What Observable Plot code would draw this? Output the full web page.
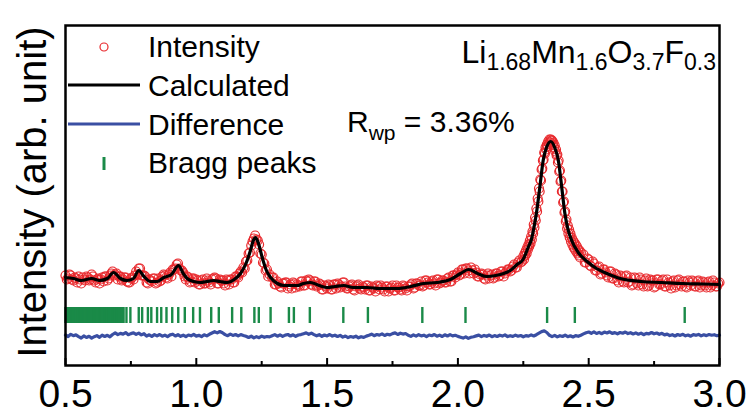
<!DOCTYPE html>
<html><head><meta charset="utf-8">
<script src="https://cdn.jsdelivr.net/npm/d3@7"></script>
<script src="https://cdn.jsdelivr.net/npm/@observablehq/plot@0.6"></script>
<style>
html,body{margin:0;padding:0;background:#fff;}
#wrap{position:relative;width:748px;height:407px;font-family:"Liberation Sans",Arial,sans-serif;}
#wrap svg{display:block;}
#overlay{position:absolute;left:0;top:0;pointer-events:none;}
</style></head><body><div id="wrap"></div>
<script>
// ---------- data ----------
const xTicks = [0.5, 1.0, 1.5, 2.0, 2.5, 3.0];
const xMinorTicks = [0.75, 1.25, 1.75, 2.25, 2.75];

// Calculated profile (x, intensity)
const calcX = [0.50,0.53,0.56,0.60,0.63,0.66,0.684,0.71,0.735,0.76,0.78,0.80,0.824,0.85,0.876,0.905,0.932,0.95,0.965,0.99,1.016,1.04,1.067,1.09,1.118,1.145,1.169,1.19,1.207,1.218,1.226,1.235,1.252,1.268,1.284,1.31,1.335,1.36,1.386,1.41,1.437,1.47,1.501,1.53,1.563,1.60,1.653,1.70,1.767,1.82,1.869,1.92,1.971,2.01,2.041,2.075,2.111,2.145,2.175,2.2,2.226,2.249,2.27,2.281,2.29,2.30,2.313,2.326,2.34,2.355,2.37,2.384,2.397,2.409,2.42,2.435,2.46,2.494,2.53,2.57,2.62,2.70,2.78,2.86,2.94,3.00];
const calcY = [88,87,85,87,85,87,93,87,85,87,95,89,84,84,88,91,100,92,87,84,83,84,85,84,83,86,92,102,115,125,128,124,108,95,88,82,80,80,80,82,83,80,78,79,80,78,78,77,77,79,82,83,86,92,96,92,89,90,92,95,101,106,119,126,137,152,178,205,219,224,218,205,178,152,137,125,113,104,97,92,87,84,83,82,81.5,81];

// Observed intensity, in segments (start, step, values)
const obsA = [90,87,90,85,87,89,82,86,89,85,91,85,86,82,88,89,85,90,94,91,86,89,86,88,83,87,86,94,97,90,90,83,86,84,87,83,84,89,90,87,93,96,97,102,95,93,86,88,84,87,
  86,81,85,82,87,83,86,88,82,86,85,80,85,86,83,89,88,94]; // 0.50 .. 1.17 step 0.01
const obsA2 = [86,91,86,88,83,86,88,85,88,86,89,83,87,86,84,89,87,92,90,92,89,85,88,84,83,88,90,91,97,90,89,82,85,87,82,87,85,91,88,91,89,96,101,97,95,89,89,83,87,83,
  85,81,86,82,85,81,87,87,82,85,82,86,81,86,83,89,92,93]; // 0.505 .. 1.175 step 0.01
const obsB = [98,97,104,105,112,113,120,124,127,130,126,125,121,112,111,103,102,95,96,89,91]; // 1.18 .. 1.28 step 0.005
const obsC = [88,81,84,79,82,83,77,81,83,78,80,84,80,85,86,81,84,79,82,76,80,77,80,76,81,82,78,83,79,77,80,76,79,81,76,78,80,75,79,77,80,76,78,74,79,77,80,75,78,76,80,77,79,81,77,82,80,84,80,85,81,84,82,86,82,85,83,87,84,90,88,93,91,96,97,95,98,92,93,89,92,87,90,87,91,88,92,90,94,92,96,94,99,98,103,103]; // 1.29 .. 2.24 step 0.01
const obsC2 = [88,81,82,78,82,83,79,77,82,81,79,84,80,84,85,80,84,80,81,76,79,81,76,81,77,81,79,83,77,79,81,75,80,77,79,76,80,75,78,74,79,80,76,79,74,78,75,80,78,75,79,75,79,82,78,82,80,79,85,83,81,85,80,86,83,85,83,88,84,90,91,90,96,92,97,92,95,96,89,91,91,86,92,90,87,92,89,94,89,94,96,95,101,98,105,104]; // 1.295 .. 2.245 step 0.01
const obsD = [109,106,112,110,115,112,118,116,121,119,125,122,129,126,134,132,141,138,148,145,157,154,167,164,177,174,186,185,196,197,205,206,213,212,218,216,221,219,224,222,226,223,226,225,225,221,223,218,220,214,216,210,211,203,205,194,195,184,185,174,174,163,164,153,154,144,146,137,140,132,136,128,132,124,128,121,125,118,123,116,121,114,119,112,116,110,115,108,113]; // 2.25 .. 2.47 step 0.0025
const obsE = [111,103,106,99,102,95,99,92,96,90,94,87,92,85,90,84,89,83,88,81,87,80,86,79,87,80,85,78,86,81,85,79,86,80,84,78,85,81,84,79,85,80,84,79,85,80,83,78,84,80,83,79,83]; // 2.48 .. 3.00 step 0.01
const obsE2 = [103,107,100,104,95,98,91,96,93,88,94,87,91,83,89,83,90,84,80,88,82,88,81,85,79,86,85,79,86,81,86,79,83,77,85,80,86,79,84,78,83,85,79,84,78,84,80,83,78,85,79,82]; // 2.485 .. 2.995 step 0.01

// Difference curve, 0.50 .. 3.00 step 0.01 (offset)
const diffY = [30.5,29.0,31.2,29.8,30.6,28.9,27.5,29.6,28.0,29.2,27.4,28.8,29.9,28.1,30.4,29.0,30.2,28.7,
 31.0,32.6,30.9,32.1,31.4,32.9,30.8,31.9,32.7,31.1,32.4,30.6,31.8,
 29.4,30.7,29.1,30.9,29.6,31.0,29.3,30.4,28.9,30.6,31.3,29.5,30.8,29.2,30.3,28.8,30.5,29.7,31.1,29.4,30.2,28.9,30.7,29.6,31.2,
 32.5,33.8,32.6,34.0,32.8,
 30.9,29.8,31.4,30.1,31.0,29.6,30.9,30.0,29.2,
 28.0,29.3,27.6,28.9,27.8,29.4,28.2,29.0,28.6,
 29.8,30.9,29.3,30.6,29.1,30.4,31.0,29.5,30.7,29.2,30.5,30.9,
 31.8,32.6,31.2,32.4,30.9,
 29.7,30.8,29.2,30.5,29.6,31.0,29.4,30.3,29.0,30.1,
 28.4,29.5,27.9,29.0,28.2,29.3,27.7,28.8,28.1,29.4,
 30.2,31.3,29.8,31.0,30.4,31.6,30.0,31.2,30.6,
 31.9,32.6,31.0,32.3,31.4,32.0,
 30.2,29.1,30.6,29.4,30.8,29.6,30.3,28.9,30.5,29.8,31.0,29.3,30.4,29.0,30.7,29.5,30.9,29.6,30.2,29.1,
 28.3,27.4,28.6,27.1,28.2,28.8,
 29.6,30.4,28.9,30.1,29.2,30.5,28.8,29.9,29.0,30.3,29.4,30.6,28.9,29.8,29.1,30.4,29.3,30.0,28.7,29.9,29.4,30.6,29.5,30.8,
 32.4,33.9,34.6,33.0,
 30.2,28.9,30.1,28.6,29.8,29.0,30.4,28.8,29.7,28.5,29.9,29.2,30.3,
 31.6,32.8,33.5,32.2,33.6,32.0,33.1,31.8,33.4,32.5,33.7,32.1,32.9,31.7,33.0,32.3,33.5,31.9,32.8,31.5,32.6,31.3,32.4,30.8,32.1,31.6,33.0,31.7,32.5,31.2,32.2,
 30.6,31.4,29.9,30.8,29.5,31.0,30.1,31.2,29.7,30.5,29.3,30.9,30.2,31.1,29.6,30.7,29.9,31.0,30.3,30.8,29.8,30.4];

// Bragg peak positions
const braggPos = [0.500,0.505,0.509,0.513,0.518,0.522,0.527,0.531,0.536,0.540,0.545,0.549,0.553,0.558,0.562,0.567,0.571,0.575,0.580,0.584,0.589,0.593,0.598,0.602,0.607,0.611,0.616,0.621,0.625,0.630,0.635,0.640,0.644,0.649,0.654,0.659,0.664,0.669,0.674,0.679,0.684,0.689,0.694,0.700,0.705,0.711,0.716,0.722,
 0.733,0.748,0.780,0.793,0.815,0.828,0.850,0.866,0.886,0.908,0.931,0.956,0.988,1.014,1.057,1.086,1.137,1.172,1.222,1.239,1.284,1.354,1.373,1.434,1.562,1.656,1.864,2.029,2.341,2.447,2.867];
const braggLevel = 50;

const legendLabels = ["Intensity", "Calculated", "Difference", "Bragg peaks"];
const yLabel = "Intensity (arb. unit)";

// ---------- build tables ----------
const seg = (start, step, vals) => vals.map((v, i) => ({x: +(start + i * step).toFixed(4), y: v}));
const obs = [].concat(
  seg(0.50, 0.01, obsA), seg(0.505, 0.01, obsA2),
  seg(1.18, 0.005, obsB),
  seg(1.29, 0.01, obsC), seg(1.295, 0.01, obsC2),
  seg(2.25, 0.0025, obsD),
  seg(2.48, 0.01, obsE), seg(2.485, 0.01, obsE2)
).sort((a, b) => a.x - b.x);
const calc = calcX.map((x, i) => ({x, y: calcY[i]}));
const diff = seg(0.50, 0.01, diffY);

const RED = "#e8282c", BLUE = "#3a4fa3", GREEN = "#1a8a48";

const plot = Plot.plot({
  width: 748, height: 407,
  marginLeft: 65, marginRight: 29, marginTop: 25, marginBottom: 42,
  x: {domain: [0.5, 3.0], label: null},
  y: {domain: [0, 340], axis: null},
  style: {fontFamily: "'Liberation Sans', Arial, sans-serif", background: "white", color: "black"},
  marks: [
    Plot.ruleX(braggPos, {x: d => d, y1: braggLevel - 8, y2: braggLevel + 8, stroke: GREEN, strokeWidth: 2.4}),
    Plot.line(diff, {x: "x", y: "y", stroke: BLUE, strokeWidth: 3.2}),
    Plot.dot(obs, {x: "x", y: "y", r: 4.5, stroke: RED, strokeWidth: 1.2, fill: "none"}),
    Plot.line(calc, {x: "x", y: "y", stroke: "black", strokeWidth: 3.2, curve: "monotone-x"}),
    Plot.tickX(xTicks, {x: d => d, insetTop: 333, stroke: "black", strokeWidth: 2}),
    Plot.tickX(xMinorTicks, {x: d => d, insetTop: 336, stroke: "black", strokeWidth: 2}),
    Plot.frame({stroke: "black", strokeWidth: 2.5}),
    Plot.axisX(xTicks, {tickSize: 0, tickPadding: 14, fontSize: 39, label: null, tickFormat: d3.format(".1f")})
  ]
});
const wrap = document.getElementById("wrap");
wrap.appendChild(plot);

// ---------- legend and annotations ----------
const ov = d3.select(wrap).append("svg").attr("id", "overlay").attr("width", 748).attr("height", 407)
  .attr("font-family", "'Liberation Sans', Arial, sans-serif").attr("fill", "black");

ov.append("circle").attr("cx", 104).attr("cy", 47).attr("r", 4).attr("fill", "none").attr("stroke", RED).attr("stroke-width", 1.2);
ov.append("line").attr("x1", 68).attr("x2", 140).attr("y1", 85).attr("y2", 85).attr("stroke", "black").attr("stroke-width", 3);
ov.append("line").attr("x1", 68).attr("x2", 140).attr("y1", 124).attr("y2", 124).attr("stroke", BLUE).attr("stroke-width", 3);
ov.append("line").attr("x1", 104).attr("x2", 104).attr("y1", 157).attr("y2", 170).attr("stroke", GREEN).attr("stroke-width", 3);
const baselines = [57, 96, 135, 173];
legendLabels.forEach((t, i) => ov.append("text").attr("x", 148).attr("y", baselines[i]).attr("font-size", 30).text(t));

// formula
const f = ov.append("text").attr("x", 716).attr("y", 63).attr("text-anchor", "end").attr("font-size", 32);
const parts = [["Li", "1.68"], ["Mn", "1.6"], ["O", "3.7"], ["F", "0.3"]];
parts.forEach(([el, sub], i) => {
  f.append("tspan").attr("dy", i === 0 ? 0 : -7).text(el);
  f.append("tspan").attr("font-size", 23).attr("dy", 7).text(sub);
});

// Rwp
const r = ov.append("text").attr("x", 347).attr("y", 132).attr("font-size", 30);
r.append("tspan").text("R");
r.append("tspan").attr("font-size", 21).attr("dy", 8).text("wp");
r.append("tspan").attr("dy", -8).text("\u00a0= 3.36%");

// y label
ov.append("text").attr("transform", "translate(46,192) rotate(-90)").attr("text-anchor", "middle")
  .attr("font-size", 40).text(yLabel);
</script></body></html>
